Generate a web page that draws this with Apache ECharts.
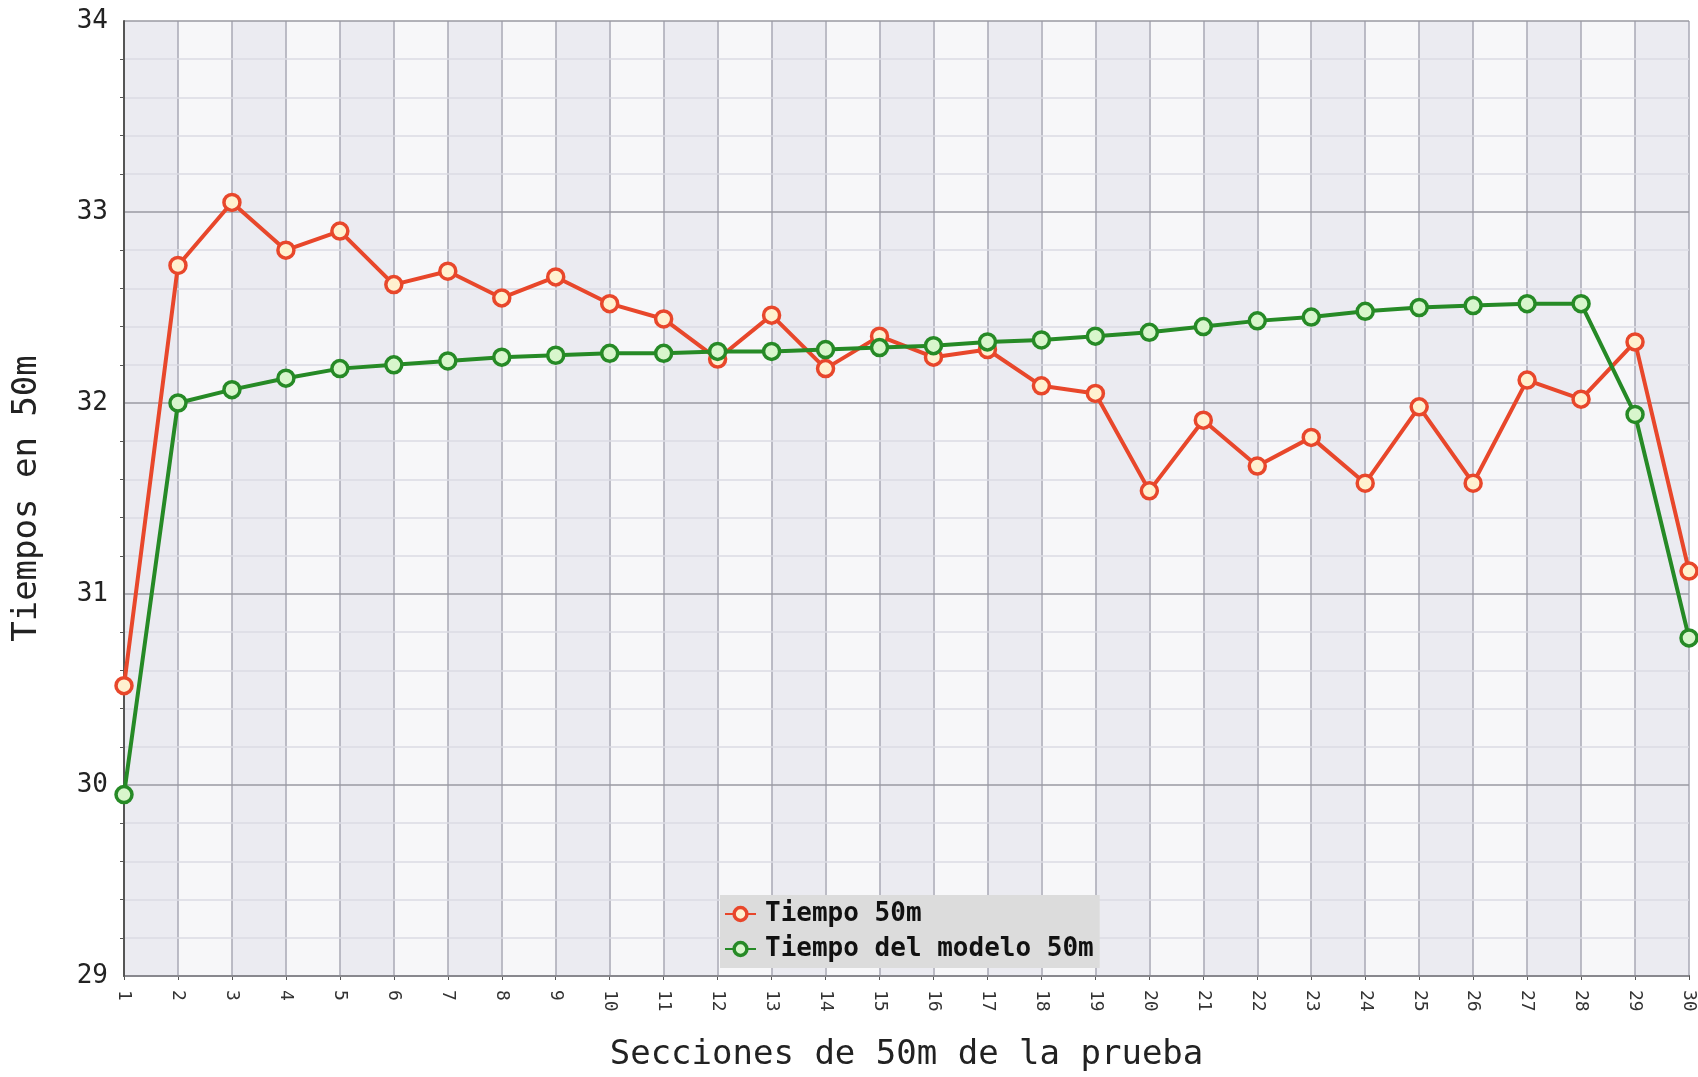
<!DOCTYPE html>
<html>
<head>
<meta charset="utf-8">
<script src="https://cdn.jsdelivr.net/npm/echarts@6/dist/echarts.min.js"></script>
<style>
	html, body { margin: 0; padding: 0; background: #fff; }
	#root { width: 1698px; height: 1077px; }
</style>
</head>
<body>
<div id="root"></div>
<script>
var secciones = [];
for (var i = 1; i <= 30; i++) { secciones.push(String(i)); }

var tiempo50m = [30.52, 32.72, 33.05, 32.80, 32.90, 32.62, 32.69, 32.55, 32.66, 32.52,
	32.44, 32.23, 32.46, 32.18, 32.35, 32.24, 32.28, 32.09, 32.05, 31.54,
	31.91, 31.67, 31.82, 31.58, 31.98, 31.58, 32.12, 32.02, 32.32, 31.12];

var tiempoModelo = [29.95, 32.00, 32.07, 32.13, 32.18, 32.20, 32.22, 32.24, 32.25, 32.26,
	32.26, 32.27, 32.27, 32.28, 32.29, 32.30, 32.32, 32.33, 32.35, 32.37,
	32.40, 32.43, 32.45, 32.48, 32.50, 32.51, 32.52, 32.52, 31.94, 30.77];

var mono = '"DejaVu Sans Mono", monospace';

var chart = echarts.init(document.getElementById('root'));

function serie(name, data, color, fill)
{
	return {
		name: name,
		type: 'line',
		data: data,
		symbol: 'circle',
		symbolSize: 16,
		showSymbol: true,
		lineStyle: { color: color, width: 4 },
		itemStyle: { color: fill, borderColor: color, borderWidth: 3.5 },
		emphasis: { disabled: true },
		z: 3
	};
}

var option = {
	animation: false,
	backgroundColor: '#ffffff',
	grid: { left: 124, right: 2, top: 21, bottom: 94, containLabel: false },
	legend: {
		orient: 'vertical',
		left: 720,
		top: 895,
		backgroundColor: '#dcdcdc',
		padding: [6, 6, 6, 4],
		itemGap: 9,
		itemWidth: 31,
		itemHeight: 16,
		itemStyle: { borderWidth: 3.5 },
		textStyle: { fontFamily: mono, fontWeight: 'bold', fontSize: 26, color: '#111', padding: [0, 0, 0, 4] },
		data: ['Tiempo 50m', 'Tiempo del modelo 50m']
	},
	xAxis: {
		type: 'category',
		data: secciones,
		boundaryGap: false,
		z: 0,
		name: 'Secciones de 50m de la prueba',
		nameLocation: 'middle',
		nameGap: 62,
		nameTextStyle: { fontFamily: mono, fontSize: 34, color: '#222' },
		axisLine: { lineStyle: { color: '#555', width: 2 } },
		axisTick: { show: true, length: 4, lineStyle: { color: '#555' } },
		axisLabel: { rotate: -90, fontFamily: mono, fontSize: 18, color: '#333', margin: 14 },
		splitLine: { show: true, lineStyle: { color: '#a9a9b4', width: 1.5 } },
		splitArea: { show: true, areaStyle: { color: ['#ebebf1', '#f7f7f9'] } }
	},
	yAxis: {
		type: 'value',
		min: 29,
		max: 34,
		interval: 1,
		z: 1,
		name: 'Tiempos en 50m',
		nameLocation: 'middle',
		nameGap: 80,
		nameTextStyle: { fontFamily: mono, fontSize: 34, color: '#222' },
		axisLine: { show: true, lineStyle: { color: '#555', width: 2 } },
		axisTick: { show: false },
		minorTick: { show: true, splitNumber: 5, length: 4, lineStyle: { color: '#555' } },
		axisLabel: { fontFamily: mono, fontSize: 26, color: '#222', margin: 16 },
		splitLine: { show: true, lineStyle: { color: '#9a9aa2', width: 1.5 } },
		minorSplitLine: { show: true, lineStyle: { color: '#dcdce3', width: 1.5 } }
	},
	series: [
		serie('Tiempo 50m', tiempo50m, '#e8472b', '#fff1cf'),
		serie('Tiempo del modelo 50m', tiempoModelo, '#268a26', '#d8f6cc')
	]
};

chart.setOption(option);
</script>
</body>
</html>
